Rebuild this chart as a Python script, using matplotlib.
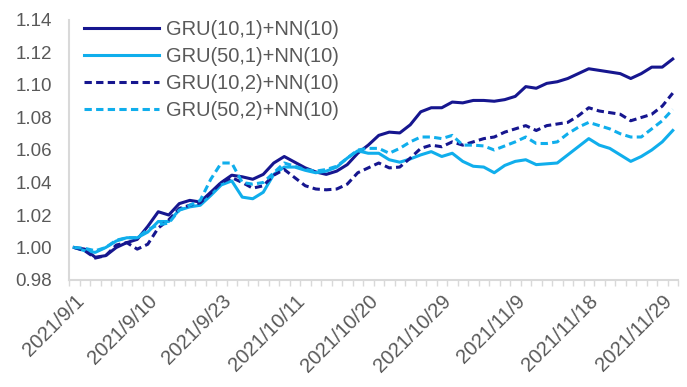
import matplotlib
matplotlib.use("Agg")
import matplotlib.pyplot as plt
import numpy as np

# trading days, 2021/9/1 - 2021/11/30
dates = (["2021/9/%d" % d for d in [1, 2, 3, 6, 7, 8, 9, 10, 13, 14, 15, 16, 17, 22, 23, 24, 27, 28, 29, 30]]
         + ["2021/10/%d" % d for d in [8, 11, 12, 13, 14, 15, 18, 19, 20, 21, 22, 25, 26, 27, 28, 29]]
         + ["2021/11/%d" % d for d in [1, 2, 3, 4, 5, 8, 9, 10, 11, 12, 15, 16, 17, 18, 19, 22, 23, 24, 25, 26, 29, 30]])

gru_10_1 = [1.000, 0.999, 0.994, 0.995, 1.000, 1.003, 1.005, 1.013, 1.022, 1.020,
            1.027, 1.029, 1.028, 1.034, 1.040, 1.0445, 1.0435, 1.042, 1.045, 1.052,
            1.056, 1.0525, 1.049, 1.0465, 1.045, 1.047, 1.051, 1.058, 1.063, 1.069,
            1.071, 1.0705, 1.0755, 1.0835, 1.086, 1.086, 1.0895, 1.089, 1.0905, 1.0905,
            1.090, 1.091, 1.093, 1.099, 1.098, 1.101, 1.102, 1.104, 1.107, 1.110,
            1.109, 1.108, 1.107, 1.104, 1.107, 1.111, 1.111, 1.116]
gru_50_1 = [1.000, 0.998, 0.997, 1.000, 1.004, 1.006, 1.006, 1.0095, 1.016, 1.016,
            1.023, 1.025, 1.026, 1.032, 1.0385, 1.041, 1.031, 1.030, 1.034, 1.045,
            1.0495, 1.0495, 1.0475, 1.046, 1.047, 1.0495, 1.055, 1.0595, 1.058, 1.058,
            1.054, 1.0525, 1.0545, 1.057, 1.059, 1.056, 1.058, 1.053, 1.050, 1.0495,
            1.046, 1.0505, 1.053, 1.054, 1.051, 1.0515, 1.052, 1.057, 1.062, 1.067,
            1.063, 1.061, 1.057, 1.053, 1.056, 1.060, 1.065, 1.072]
gru_10_2 = [1.000, 0.998, 0.9935, 0.995, 1.0015, 1.003, 0.999, 1.002, 1.012, 1.017,
            1.024, 1.026, 1.0275, 1.0335, 1.040, 1.043, 1.040, 1.0365, 1.038, 1.0445,
            1.048, 1.043, 1.038, 1.036, 1.0355, 1.036, 1.039, 1.046, 1.049, 1.052,
            1.049, 1.0495, 1.055, 1.061, 1.063, 1.062, 1.065, 1.063, 1.065, 1.067,
            1.068, 1.071, 1.073, 1.075, 1.072, 1.075, 1.076, 1.077, 1.081, 1.086,
            1.084, 1.083, 1.082, 1.078, 1.080, 1.082, 1.087, 1.095]
gru_50_2 = [1.000, 0.9995, 0.998, 1.000, 1.0045, 1.006, 1.006, 1.011, 1.014, 1.015,
            1.023, 1.026, 1.029, 1.042, 1.052, 1.052, 1.040, 1.039, 1.040, 1.046,
            1.052, 1.050, 1.048, 1.047, 1.048, 1.050, 1.055, 1.060, 1.061, 1.061,
            1.058, 1.061, 1.065, 1.068, 1.068, 1.067, 1.069, 1.063, 1.063, 1.0625,
            1.060, 1.0625, 1.065, 1.068, 1.064, 1.064, 1.065, 1.070, 1.074, 1.077,
            1.075, 1.073, 1.070, 1.068, 1.068, 1.073, 1.078, 1.085]

series = ["GRU(10,1)+NN(10)", "GRU(50,1)+NN(10)", "GRU(10,2)+NN(10)", "GRU(50,2)+NN(10)"]
yticks = [0.98, 1.00, 1.02, 1.04, 1.06, 1.08, 1.10, 1.12, 1.14]

DARK = "#16168F"
LIGHT = "#10AEEC"
GREY_TXT = "#595959"
GREY_AX = "#D9D9D9"

plt.rcParams['font.family'] = ['Liberation Sans', 'DejaVu Sans']

fig = plt.figure(figsize=(6.87, 3.87), dpi=100)
ax = fig.add_axes([69 / 687, 107 / 387, 609 / 687, 260 / 387])

x = np.arange(len(dates))
dash = (0, (2.4, 1.4))
ax.plot(x, gru_10_1, color=DARK, lw=2.2, label=series[0])
ax.plot(x, gru_50_1, color=LIGHT, lw=2.2, label=series[1])
ax.plot(x, gru_10_2, color=DARK, lw=2.2, ls=dash, label=series[2])
ax.plot(x, gru_50_2, color=LIGHT, lw=2.2, ls=dash, label=series[3])

ax.set_xlim(-0.5, len(dates) - 0.5)
ax.set_ylim(yticks[0], yticks[-1])
ax.set_yticks(yticks)
ax.set_yticklabels(["%.2f" % v for v in yticks])

ax.set_xticks(x[::7])
ax.set_xticklabels(dates[::7], rotation=45, ha='right', va='top', rotation_mode='anchor')
ax.set_xticks(np.arange(-0.5, len(dates)), minor=True)

ax.tick_params(axis='y', length=0, pad=12, labelsize=13.5, labelcolor=GREY_TXT)
ax.tick_params(axis='x', which='major', length=0, pad=8, labelsize=14.5, labelcolor=GREY_TXT)
ax.tick_params(axis='x', which='minor', length=4, width=1, color=GREY_AX, direction='out')

for s in ['top', 'right']:
    ax.spines[s].set_visible(False)
for s in ['left', 'bottom']:
    ax.spines[s].set_color(GREY_AX)
    ax.spines[s].set_linewidth(1.5)

leg = ax.legend(loc='upper left', bbox_to_anchor=(84 / 687, 1 - 20 / 387),
                bbox_transform=fig.transFigure, frameon=False, fontsize=14.5,
                handlelength=3.7, handletextpad=0.35, labelspacing=0.40,
                borderpad=0, borderaxespad=0)
for t in leg.get_texts():
    t.set_color(GREY_TXT)

fig.savefig("out.png", dpi=100)
